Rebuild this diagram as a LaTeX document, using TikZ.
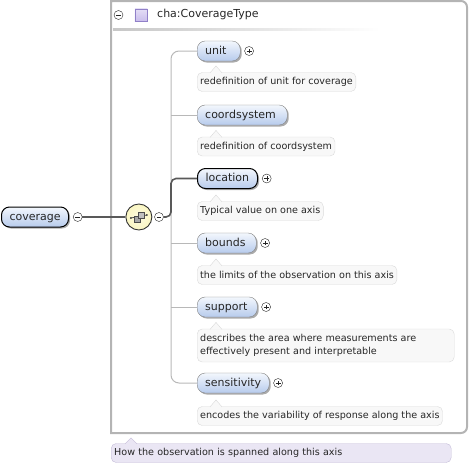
\documentclass[tikz,border=0pt]{standalone}
\usepackage{fontspec}
\setmainfont{DejaVu Sans}
\usetikzlibrary{positioning, shadows}

\definecolor{elemtop}{HTML}{F3F7FD}
\definecolor{elembot}{HTML}{B7CBEC}
\definecolor{annfill}{HTML}{F8F8F8}
\definecolor{annline}{HTML}{DADADA}
\definecolor{docfill}{HTML}{EAE6F4}
\definecolor{docline}{HTML}{C4BCD8}
\definecolor{seqfill}{HTML}{FAF6C2}
\definecolor{typeline}{HTML}{B4B4B4}
\definecolor{treeline}{HTML}{B8B8B8}
\definecolor{typefill}{HTML}{C9BDEC}
\definecolor{typedraw}{HTML}{9080C8}

\newcommand{\elemfont}{\fontsize{11}{13}\selectfont}
\newcommand{\annfont}{\fontsize{9.6}{13.5}\selectfont}

\tikzset{
  elem/.style={draw=black!50, rounded corners=8pt, top color=elemtop, bottom color=elembot,
    text width=#1, align=left, inner xsep=8pt, inner ysep=0pt, minimum height=20pt,
    text height=8.5pt, text depth=2.5pt, anchor=west, font=\elemfont, text=black!85,
    drop shadow={shadow xshift=1.5pt, shadow yshift=-1.5pt, fill=black!55, opacity=.6}},
  ann/.style={draw=annline, fill=annfill, rounded corners=5pt, inner xsep=3pt, inner ysep=3pt,
    minimum height=19pt, anchor=west, align=left, font=\annfont, text=black!85},
  plusbtn/.style={circle, draw=black!85, fill=white, minimum size=9pt, inner sep=0pt,
    path picture={\draw[black!85] (path picture bounding box.center) ++(-2.4pt,0) -- ++(4.8pt,0)
      (path picture bounding box.center) ++(0,-2.4pt) -- ++(0,4.8pt);}},
  minusbtn/.style={circle, draw=black!85, fill=white, minimum size=9pt, inner sep=0pt,
    path picture={\draw[black!85] (path picture bounding box.center) ++(-2.4pt,0) -- ++(4.8pt,0);}},
  tree/.style={draw=treeline, line width=1pt},
  mainline/.style={draw=black!65, line width=1.6pt}
}

\begin{document}
\begin{tikzpicture}[x=1pt, y=-1pt]
    \useasboundingbox (0,0) rectangle (470,466);

    % Type box
    \draw[typeline, line width=2pt] (111,1) -- (111,433) [rounded corners=6pt] -- (467,433) -- (467,1) [sharp corners] -- cycle;
    \node[minusbtn] (typebtn) at (118.5,15) {};
    \node[draw=typedraw, top color=typefill!50, bottom color=typefill, minimum size=12.5pt, inner sep=0pt] (typeicon) at (141,15) {};
    \node[anchor=west, font=\elemfont, text=black!85, inner sep=0pt] (typename) at (157,14.5) {cha:CoverageType};
    \shade[left color=black!22, right color=white] (113,28) rectangle (380,30);

    % Root element
    \node[elem=51pt, draw=black, line width=1pt] (coverage) at (1,217) {coverage};
    \node[minusbtn, right=4pt of coverage] (covbtn) {};

    % Sequence
    \node[circle, draw=black!80, line width=0.9pt, inner color=seqfill!50, outer color=seqfill,
      minimum size=26pt, inner sep=0pt, right=43pt of covbtn] (seq) {};
    \node[minusbtn, right=2pt of seq] (seqbtn) {};
    \draw[black!70, line width=0.8pt] (seq.center) ++(-8pt,-1pt) -- ++(16pt,3pt);
    \filldraw[draw=black!70, fill=black!35] (seq.center) ++(-5pt,-5pt) rectangle ++(6pt,6pt);
    \filldraw[draw=black!70, fill=black!25] (seq.center) ++(-1pt,-1pt) rectangle ++(6pt,6pt);
    \fill[black!80] (seq.center) ++(-8pt,-1pt) circle (1pt) (seq.center) ++(8pt,2pt) circle (1pt);
    \draw[mainline] (covbtn) -- (seq);

    % Children
    \node[elem=27pt] (unit) at (197,51) {unit};
    \node[ann] (unitdoc) at (197,82) {redefinition of unit for coverage};
    \node[elem=74pt] (coordsys) at (197,115) {coordsystem};
    \node[ann] (coorddoc) at (197,146.5) {redefinition of coordsystem};
    \node[elem=44pt, draw=black, line width=1pt] (location) at (197,178.5) {location};
    \node[ann] (locdoc) at (197,211) {Typical value on one axis};
    \node[elem=43pt] (bounds) at (197,243) {bounds};
    \node[ann] (bounddoc) at (197,275) {the limits of the observation on this axis};
    \node[elem=44pt] (support) at (197,307) {support};
    \node[ann, minimum height=33pt, text width=251pt] (suppdoc) at (197,345.5) {describes the area where measurements are\\effectively present and interpretable};
    \node[elem=56pt] (sens) at (197,383) {sensitivity};
    \node[ann] (sensdoc) at (197,416) {encodes the variability of response along the axis};

    \foreach \e in {unit, location, bounds, support, sens}
        \node[plusbtn, right=4pt of \e] (\e btn) {};

    \foreach \a in {unitdoc, coorddoc, locdoc, bounddoc, suppdoc, sensdoc}
        \filldraw[draw=annline, fill=annfill] ([xshift=13pt, yshift=-0.6pt]\a.north west) -- ++(6pt,7pt) -- ++(6pt,-7pt);

    % Connectors
    \coordinate (trunk) at (171,0);
    \draw[tree, rounded corners=8pt] (unit.west) -- (unit.west -| trunk) -- (sens.west -| trunk) -- (sens.west);
    \foreach \e in {coordsys, bounds, support}
        \draw[tree] (\e.west -| trunk) -- (\e.west);
    \draw[mainline, rounded corners=5pt] (seqbtn.east) -- (seqbtn.east -| trunk) -- (location.west -| trunk) -- (location.west);

    % Documentation
    \node[ann, draw=docline, fill=docfill, text width=334pt] (typedoc) at (111,453) {How the observation is spanned along this axis};
    \filldraw[draw=docline, fill=docfill] ([xshift=14pt, yshift=-0.6pt]typedoc.north west) -- ++(6pt,6pt) -- ++(6pt,-6pt);
\end{tikzpicture}
\end{document}
